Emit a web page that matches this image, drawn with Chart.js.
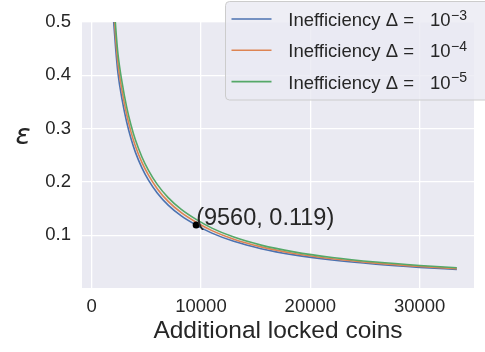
<!DOCTYPE html>
<html>
<head>
<meta charset="UTF-8">
<title>Additional locked coins</title>
<style>
    html, body { margin: 0; padding: 0; background: #ffffff; }
    #wrap { width: 485px; height: 352px; }
</style>
<script src="https://cdn.jsdelivr.net/npm/chart.js"></script>
</head>
<body>
<div id="wrap"><canvas id="chart" width="485" height="352"></canvas></div>
<script>
    // values
    const xValues = [1800, 2000, 2200, 2400, 2800, 3200, 3600, 4000, 4600, 5200, 6000, 7000, 8200, 9560, 11000, 13000, 15500, 18500, 22000, 26000, 30000, 33400];
    const eps3 = [0.573, 0.505, 0.450, 0.4055, 0.353, 0.313, 0.2815, 0.256, 0.2265, 0.2035, 0.1793, 0.1565, 0.1362, 0.119, 0.104, 0.0886, 0.0748, 0.0631, 0.0535, 0.0456, 0.0397, 0.0358];
    const eps4 = [0.599, 0.528, 0.470, 0.424, 0.369, 0.327, 0.294, 0.2675, 0.2367, 0.2127, 0.1874, 0.1635, 0.1423, 0.1244, 0.1087, 0.0926, 0.0782, 0.0659, 0.0559, 0.0477, 0.0415, 0.0374];
    const eps5 = [0.625, 0.550, 0.4905, 0.442, 0.385, 0.341, 0.3068, 0.279, 0.2469, 0.2218, 0.1954, 0.1706, 0.1485, 0.1297, 0.1134, 0.0966, 0.0815, 0.0688, 0.0583, 0.0497, 0.0433, 0.0390];
    const seriesNames = ['Inefficiency Δ =', 'Inefficiency Δ =', 'Inefficiency Δ ='];
    const seriesExps = ['−3', '−4', '−5'];
    const seriesColors = ['#4C72B0', '#DD8452', '#55A868'];
    const markX = 9560;
    const markY = 0.119;
    const xTicks = [0, 10000, 20000, 30000];
    const yTicks = [0.1, 0.2, 0.3, 0.4, 0.5];

    const FONT = "'Liberation Sans', Arial, sans-serif";
    const TXT = '#262626';

    function pts(ys) {
        return xValues.map((x, i) => ({ x: x, y: ys[i] }));
    }

    const lineSets = [eps3, eps4, eps5].map((ys, i) => ({
        label: seriesNames[i] + ' 10' + seriesExps[i],
        data: pts(ys),
        borderColor: seriesColors[i],
        borderWidth: 1.6,
        pointRadius: 0,
        cubicInterpolationMode: 'monotone',
        fill: false,
        order: 3 - i
    }));

    // background of the plot area
    const bgPlugin = {
        id: 'bg',
        beforeDraw(chart) {
            const { ctx, chartArea: a } = chart;
            ctx.save();
            ctx.fillStyle = '#EAEAF2';
            ctx.fillRect(a.left, a.top, a.right - a.left, a.bottom - a.top);
            ctx.restore();
        }
    };

    // epsilon label, annotation, legend
    const extrasPlugin = {
        id: 'extras',
        afterDraw(chart) {
            const ctx = chart.ctx;
            const xs = chart.scales.x, ys = chart.scales.y;
            ctx.save();

            ctx.fillStyle = TXT;
            ctx.font = "italic 28px 'DejaVu Sans'";
            ctx.textAlign = 'center';
            ctx.textBaseline = 'alphabetic';
            ctx.fillText('ε', 23, 144);

            // annotation next to the point
            ctx.font = '23.5px ' + FONT;
            ctx.textAlign = 'left';
            ctx.fillText('(' + markX + ', ' + markY + ')', xs.getPixelForValue(markX), ys.getPixelForValue(markY));

            // legend box
            ctx.beginPath();
            ctx.roundRect(225.5, 1.5, 280, 98.5, 4);
            ctx.fillStyle = 'rgba(234,234,242,0.8)';
            ctx.fill();
            ctx.strokeStyle = '#CCCCCC';
            ctx.lineWidth = 1;
            ctx.stroke();

            seriesNames.forEach((name, i) => {
                const ly = 19 + i * 31.3;
                ctx.beginPath();
                ctx.moveTo(231.5, ly);
                ctx.lineTo(271.5, ly);
                ctx.strokeStyle = seriesColors[i];
                ctx.lineWidth = 1.6;
                ctx.stroke();
                ctx.fillStyle = TXT;
                ctx.font = '18.5px ' + FONT;
                ctx.fillText(name, 288.3, ly + 7);
                ctx.fillText('10', 430, ly + 7);
                ctx.font = '14px ' + FONT;
                ctx.fillText(seriesExps[i], 451, ly + 0.5);
            });
            ctx.restore();
        }
    };

    new Chart(document.getElementById('chart'), {
        type: 'line',
        data: {
            datasets: [
                ...lineSets,
                {
                    label: 'mark',
                    data: [{ x: markX, y: markY }],
                    showLine: false,
                    pointRadius: 3.5,
                    pointBackgroundColor: '#000000',
                    pointBorderWidth: 0,
                    order: 0
                }
            ]
        },
        options: {
            responsive: false,
            animation: false,
            layout: { padding: { top: 11, right: 11, left: 0, bottom: 0 } },
            plugins: { legend: { display: false }, tooltip: { enabled: false } },
            scales: {
                x: {
                    type: 'linear',
                    min: -880,
                    max: 34970,
                    afterBuildTicks: s => { s.ticks = xTicks.map(v => ({ value: v })); },
                    afterFit: s => { s.height = 64; },
                    grid: { color: '#ffffff', lineWidth: 1.3, drawTicks: false },
                    border: { display: false },
                    ticks: { color: TXT, font: { family: FONT, size: 18.5 }, padding: 8, maxRotation: 0,
                             callback: v => String(v) },
                    title: { display: true, text: 'Additional locked coins', color: TXT,
                             font: { family: FONT, size: 24.5 }, padding: { top: 0, bottom: 6 } }
                },
                y: {
                    type: 'linear',
                    min: 0.001,
                    max: 0.5,
                    afterBuildTicks: s => { s.ticks = yTicks.map(v => ({ value: v })); },
                    afterFit: s => { s.width = 82; },
                    grid: { color: '#ffffff', lineWidth: 1.3, drawTicks: false },
                    border: { display: false },
                    ticks: { color: TXT, font: { family: FONT, size: 18.5 }, padding: 11,
                             callback: v => v.toFixed(1) }
                }
            }
        },
        plugins: [bgPlugin, extrasPlugin]
    });
</script>
</body>
</html>
